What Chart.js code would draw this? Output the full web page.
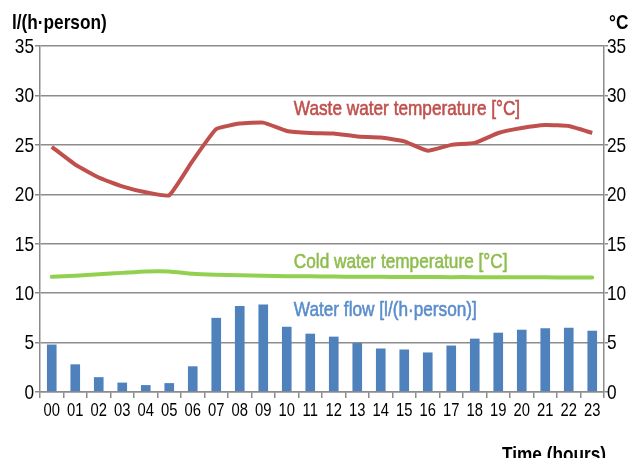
<!DOCTYPE html>
<html>
<head>
<meta charset="utf-8">
<script src="https://cdn.jsdelivr.net/npm/chart.js@4/dist/chart.umd.min.js"></script>
<style>
html,body{margin:0;padding:0;background:#fff;}
#wrap{position:relative;width:634px;height:458px;overflow:hidden;}
</style>
</head>
<body>
<div id="wrap"><canvas id="c" width="634" height="458"></canvas></div>
<script>
const hours = ["00","01","02","03","04","05","06","07","08","09","10","11","12","13","14","15","16","17","18","19","20","21","22","23"];
const waterFlow = [4.8,2.8,1.5,0.95,0.7,0.9,2.6,7.5,8.7,8.85,6.6,5.9,5.6,4.95,4.4,4.3,4.0,4.7,5.4,6.0,6.3,6.45,6.5,6.2];
const wasteTemp = [24.8,23.0,21.7,20.8,20.2,19.9,23.4,26.6,27.15,27.25,26.4,26.2,26.15,25.85,25.75,25.35,24.4,25.0,25.2,26.2,26.7,27.0,26.9,26.2];
const coldTemp = [11.65,11.75,11.9,12.05,12.2,12.2,11.95,11.85,11.8,11.75,11.72,11.7,11.68,11.66,11.65,11.64,11.63,11.62,11.62,11.6,11.6,11.6,11.58,11.58];
const yTicks = [0,5,10,15,20,25,30,35];
const seriesLabels = [
  {text:"Waste water temperature [°C]", color:"#c0504d", at:[10.3, 28.6]},
  {text:"Cold water temperature [°C]", color:"#8fbd4e", at:[10.3, 13.15]},
  {text:"Water flow [l/(h·person)]", color:"#5a8dcb", at:[10.3, 8.3]}
];
const leftUnit = "l/(h·person)";
const rightUnit = "°C";
const xTitle = "Time (hours)";

const FONT = '"Liberation Sans",Arial,Helvetica,sans-serif';
const SQUEEZE = 0.82;
const GRID = '#8c8c8c';

function narrowText(ctx, text, x, y, align, stroke){
  ctx.save();
  ctx.translate(x, y);
  ctx.scale(SQUEEZE, 1);
  ctx.textAlign = align;
  ctx.fillText(text, 0, 0);
  if (stroke) { ctx.lineWidth = stroke; ctx.strokeStyle = ctx.fillStyle; ctx.strokeText(text, 0, 0); }
  ctx.restore();
}

const labelPlugin = {
  id:'labels',
  afterDraw(chart){
    const ctx = chart.ctx;
    const x = chart.scales.x, yl = chart.scales.y, yr = chart.scales.y1;
    ctx.save();
    ctx.fillStyle = '#000';
    ctx.textBaseline = 'middle';
    ctx.font = '21px ' + FONT;
    yTicks.forEach(v=>{
      narrowText(ctx, String(v), yl.left + yl.width - 6, yl.getPixelForValue(v) + 1, 'right');
      narrowText(ctx, String(v), yr.left + 3, yr.getPixelForValue(v) + 1, 'left');
    });
    ctx.font = '18px ' + FONT;
    hours.forEach((h,i)=>{
      narrowText(ctx, h, x.getPixelForValue(i), x.top + 19, 'center');
    });
    ctx.font = '21px ' + FONT;
    seriesLabels.forEach(l=>{
      ctx.fillStyle = l.color;
      narrowText(ctx, l.text, x.getPixelForValue(l.at[0]), yr.getPixelForValue(l.at[1]), 'left', 0.6);
    });
    ctx.fillStyle = '#000';
    ctx.font = 'bold 21px ' + FONT;
    ctx.textBaseline = 'alphabetic';
    narrowText(ctx, leftUnit, 12, 29, 'left');
    narrowText(ctx, rightUnit, 609, 29, 'left');
    narrowText(ctx, xTitle, 502, 461, 'left');
    ctx.restore();
  }
};

new Chart(document.getElementById('c'), {
  data:{
    labels: hours,
    datasets:[
      {type:'line', label:'Waste water temperature [°C]', data:wasteTemp, yAxisID:'y1', borderColor:'#c0504d', borderWidth:4, pointRadius:0, tension:0.12, borderJoinStyle:'round', order:1},
      {type:'line', label:'Cold water temperature [°C]', data:coldTemp, yAxisID:'y1', borderColor:'#92d050', borderWidth:4, pointRadius:0, tension:0.2, borderCapStyle:'round', order:1},
      {type:'bar', label:'Water flow [l/(h·person)]', data:waterFlow, yAxisID:'y', backgroundColor:'#4f81bd', borderWidth:0, barPercentage:1, categoryPercentage:0.41, order:2}
    ]
  },
  options:{
    responsive:false,
    animation:false,
    layout:{padding:{top:46,left:0,right:0,bottom:0}},
    plugins:{legend:{display:false}, tooltip:{enabled:false}},
    scales:{
      x:{
        type:'category', offset:true,
        grid:{offset:true, drawOnChartArea:false, drawTicks:true, tickLength:6, color:GRID, lineWidth:1.5},
        border:{display:true, color:GRID, width:1.5},
        ticks:{display:false, autoSkip:false},
        afterFit(s){ s.height = 66; }
      },
      y:{
        position:'left', min:0, max:35,
        afterBuildTicks(s){ s.ticks = yTicks.map(v=>({value:v})); },
        grid:{color:GRID, lineWidth:1.5, tickLength:5},
        border:{display:true, color:GRID, width:1.5},
        ticks:{display:false},
        afterFit(s){ s.width = 40; }
      },
      y1:{
        position:'right', min:0, max:35,
        afterBuildTicks(s){ s.ticks = yTicks.map(v=>({value:v})); },
        grid:{drawOnChartArea:false, color:GRID, lineWidth:1.5, tickLength:4},
        border:{display:true, color:GRID, width:1.5},
        ticks:{display:false},
        afterFit(s){ s.width = 30; }
      }
    }
  },
  plugins:[labelPlugin]
});
</script>
</body>
</html>
